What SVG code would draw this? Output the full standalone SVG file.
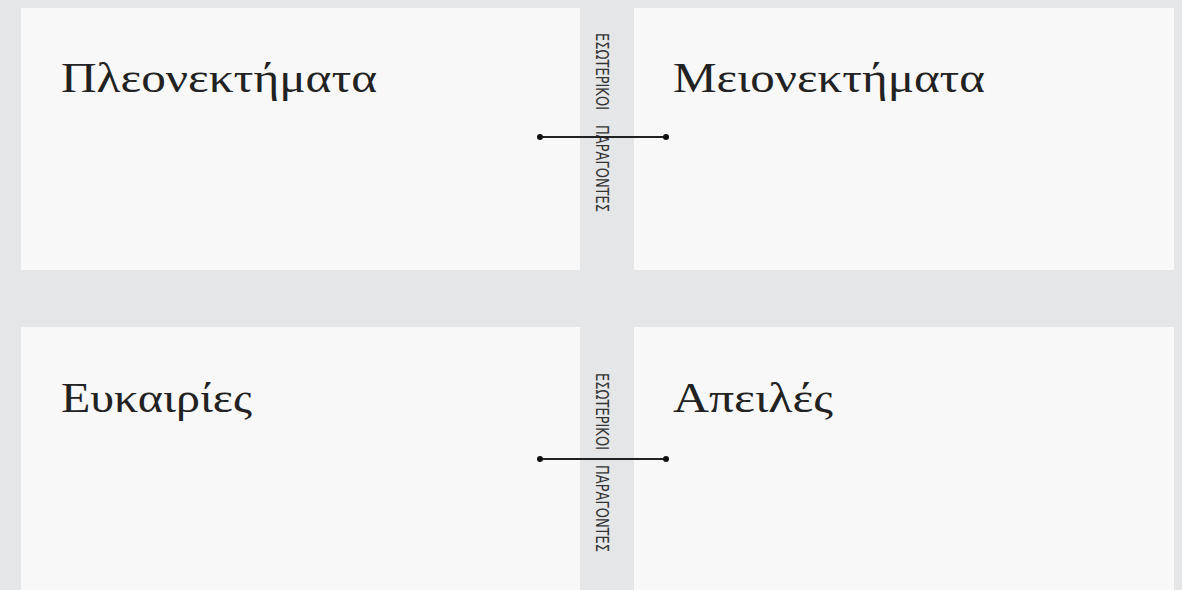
<svg xmlns="http://www.w3.org/2000/svg" width="1182" height="590" viewBox="0 0 1182 590">
<style>
.bg{fill:#e5e6e8}
.box{fill:#f8f8f8}
.title{font-family:"Liberation Serif","DejaVu Serif",serif;font-size:42px;fill:#222}
.side{font-family:"DejaVu Sans Condensed","DejaVu Sans","Liberation Sans",sans-serif;font-size:18px;fill:#333}
.conn{stroke:#222;stroke-width:2;fill:none}
.dot{fill:#111}
</style>
<rect class="bg" x="0" y="0" width="1182" height="590"/>
<g id="strengths">
<rect class="box" x="21" y="8" width="559" height="262"/>
<text class="title" x="61" y="92" textLength="316" lengthAdjust="spacingAndGlyphs">Πλεονεκτήματα</text>
</g>
<g id="weaknesses">
<rect class="box" x="634" y="8" width="540" height="262"/>
<text class="title" x="673" y="92" textLength="312" lengthAdjust="spacingAndGlyphs">Μειονεκτήματα</text>
</g>
<g id="opportunities">
<rect class="box" x="21" y="327" width="559" height="263"/>
<text class="title" x="61" y="412" textLength="191" lengthAdjust="spacingAndGlyphs">Ευκαιρίες</text>
</g>
<g id="threats">
<rect class="box" x="634" y="327" width="540" height="263"/>
<text class="title" x="673" y="412" textLength="160" lengthAdjust="spacingAndGlyphs">Απειλές</text>
</g>
<g id="internal-top" transform="translate(596,0) rotate(90)">
<text class="side" x="33" y="0" textLength="77" lengthAdjust="spacingAndGlyphs">ΕΣΩΤΕΡΙΚΟΙ</text>
<text class="side" x="125" y="0" textLength="87" lengthAdjust="spacingAndGlyphs">ΠΑΡΑΓΟΝΤΕΣ</text>
</g>
<g id="internal-bottom" transform="translate(596,0) rotate(90)">
<text class="side" x="373" y="0" textLength="77" lengthAdjust="spacingAndGlyphs">ΕΣΩΤΕΡΙΚΟΙ</text>
<text class="side" x="465" y="0" textLength="87" lengthAdjust="spacingAndGlyphs">ΠΑΡΑΓΟΝΤΕΣ</text>
</g>
<g id="connectors">
<line class="conn" x1="540" y1="137" x2="666" y2="137"/>
<circle class="dot" cx="540" cy="137" r="3"/>
<circle class="dot" cx="666" cy="137" r="3"/>
<line class="conn" x1="540" y1="459" x2="666" y2="459"/>
<circle class="dot" cx="540" cy="459" r="3"/>
<circle class="dot" cx="666" cy="459" r="3"/>
</g>
</svg>
